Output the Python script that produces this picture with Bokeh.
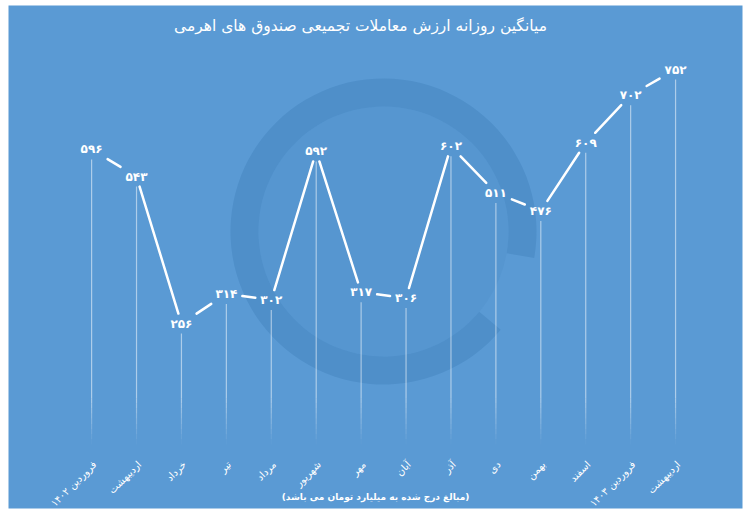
import math
from bokeh.plotting import figure
from bokeh.models import Range1d, Label
from bokeh.core.properties import value
from bokeh.embed import file_html
from bokeh.resources import INLINE

# ---------------- data ----------------
months = ["فروردین ۱۴۰۲", "اردیبهشت", "خرداد", "تیر", "مرداد", "شهریور", "مهر",
          "آبان", "آذر", "دی", "بهمن", "اسفند", "فروردین ۱۴۰۳", "اردیبهشت"]
values = [596, 543, 256, 314, 302, 592, 317, 306, 602, 511, 476, 609, 702, 752]
title_text = "میانگین روزانه ارزش معاملات تجمیعی صندوق های اهرمی"
note_text = "(مبالغ درج شده به میلیارد تومان می باشد)"

# ---------------- styles ----------------
BG = "#5a9ad4"
RING = "#4f8fc9"
FONT = "DejaVu Sans"
W, H = 748, 514
ML, MR, MT, MB = 8, 6, 5, 6
X0, X1 = -1.85, 14.49
Y0, Y1 = -105, 877


def fa(n):
    return str(n).translate(str.maketrans("0123456789", "۰۱۲۳۴۵۶۷۸۹"))


idx = list(range(len(values)))
labels = [fa(v) for v in values]

p = figure(width=W, height=H, x_range=Range1d(X0, X1), y_range=Range1d(Y0, Y1),
           x_axis_type=None, y_axis_type=None, toolbar_location=None,
           output_backend="svg", min_border_left=ML, min_border_right=MR,
           min_border_top=MT, min_border_bottom=MB,
           background_fill_color=BG, border_fill_color="white",
           outline_line_color=None)

# pixel scale factors
pxx = (W - ML - MR) / (X1 - X0)
pxy = (H - MT - MB) / (Y1 - Y0)

# ---------------- watermark ----------------
wm_x, wm_y = X0 + (383 - ML) / pxx, Y1 - (231 - MT) / pxy
p.circle(x=[wm_x], y=[wm_y], radius=125, radius_units="screen",
         fill_color=RING, fill_alpha=0.35, line_color=None)
p.annular_wedge(x=[wm_x], y=[wm_y], inner_radius=125, outer_radius=153,
                inner_radius_units="screen", outer_radius_units="screen",
                start_angle=math.radians(-10), end_angle=math.radians(-40),
                direction="anticlock", fill_color=RING, line_color=None)

# ---------------- drop lines ----------------
HW, HH = 16, 10  # label half box in px
fade_top = 110
p.segment(x0=idx, y0=[fade_top] * len(idx), x1=idx,
          y1=[v - HH / pxy for v in values],
          line_color="white", line_alpha=0.5, line_width=1.2)
n = 9
for k in range(n):
    a = fade_top - (fade_top - 20) * k / n
    b = fade_top - (fade_top - 20) * (k + 1) / n
    p.segment(x0=idx, y0=[a] * len(idx), x1=idx, y1=[b] * len(idx),
              line_color="white", line_alpha=0.5 * (1 - (k + 0.5) / n),
              line_width=1.2)

# ---------------- main line (broken at labels) ----------------
sx0, sy0, sx1, sy1 = [], [], [], []
for i in range(len(values) - 1):
    xa, ya, xb, yb = idx[i], values[i], idx[i + 1], values[i + 1]
    dxp, dyp = (xb - xa) * pxx, (yb - ya) * pxy
    t = min(HW / abs(dxp) if dxp else 1e9, HH / abs(dyp) if dyp else 1e9)
    sx0.append(xa + t * (xb - xa)); sy0.append(ya + t * (yb - ya))
    sx1.append(xb - t * (xb - xa)); sy1.append(yb - t * (yb - ya))
p.segment(x0=sx0, y0=sy0, x1=sx1, y1=sy1, line_color="white", line_width=2.5,
          line_cap="round")

# ---------------- value labels ----------------
p.text(x=idx, y=values, text=labels, text_align="center", text_baseline="middle",
       text_color="white", text_font=value(FONT), text_font_size="12px",
       text_font_style="bold")

# ---------------- category labels ----------------
p.text(x=idx, y=[0] * len(idx), text=months, angle=math.radians(45),
       text_align="right", text_baseline="middle", x_offset=3, y_offset=8,
       text_color="white", text_font=value(FONT), text_font_size="10px")

# ---------------- title and note ----------------
p.add_layout(Label(x=360 - ML, y=H - MB - 25, x_units="screen", y_units="screen",
                   text=title_text, text_align="center", text_baseline="middle",
                   text_color="white", text_font=FONT, text_font_size="15.5px"))
p.add_layout(Label(x=375 - ML, y=H - MB - 496, x_units="screen", y_units="screen",
                   text=note_text, text_align="center", text_baseline="middle",
                   text_color="white", text_font=FONT, text_font_size="9px",
                   text_font_style="bold"))

open("out.html", "w").write(file_html(p, INLINE))
